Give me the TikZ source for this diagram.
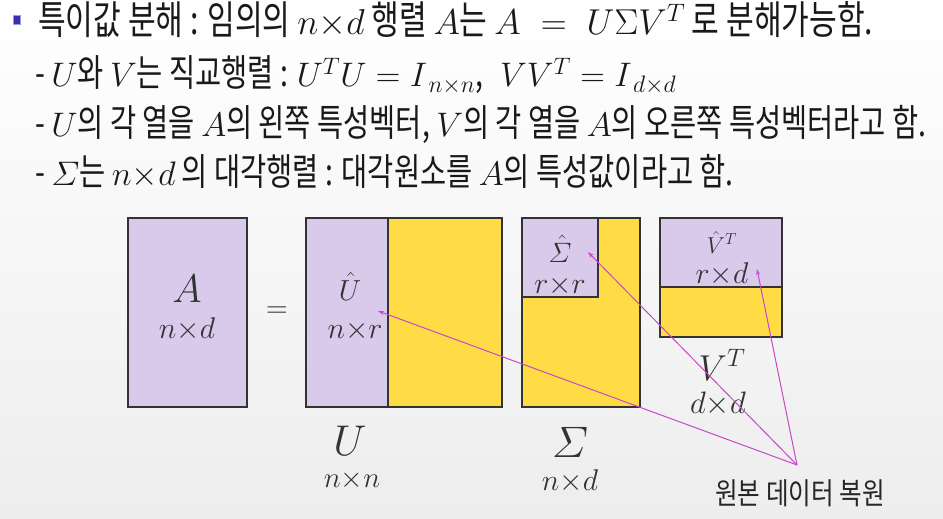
\RequirePackage{fix-cm}
\documentclass[tikz,border=0pt]{standalone}
\usepackage{fontspec}
\newfontfamily\kr[FakeStretch=0.76, Scale=1.1]{Noto Sans CJK KR}
\newfontfamily\krlbl[FakeStretch=0.82]{Noto Sans CJK KR}
\usetikzlibrary{arrows.meta}
\newcommand{\itSigma}{\mathchar"0106}
\definecolor{lav}{HTML}{D9CAEC}
\definecolor{gold}{HTML}{FFDB45}
\definecolor{pinkline}{HTML}{C848C8}
\definecolor{bulletblue}{HTML}{3A2FB0}
\tikzset{
  mat/.style={draw=black!80, line width=1.3pt},
  hdr/.style={anchor=base west, inner sep=0pt, text=black!90, font=\kr\fontsize{34}{40}\selectfont},
  lbl/.style={anchor=base, text=black!80, inner sep=0pt},
  ptr/.style={pinkline, line width=1pt, -{Stealth[length=6pt,width=4pt]}},
}
\begin{document}
\begin{tikzpicture}[x=1pt,y=-1pt]
\shade[top color=white, bottom color=black!7] (0,0) rectangle (943,519);
\useasboundingbox (0,0) rectangle (943,519);
% header lines
\node[fill=bulletblue, draw=bulletblue!50, minimum width=7pt, minimum height=9pt, inner sep=0pt] (bul) at (17,20) {};
\node[hdr, font=\kr\fontsize{36}{40}\selectfont] (l1) at (38,35) {특이값 분해 : 임의의 $n{\times}d$ 행렬 $A$는 $A \;=\; U\Sigma V^T$ 로 분해가능함.};
\node[hdr] (l2) at (35,87) {- $U$와 $V$는 직교행렬 : $U^TU = I_{\,n\times n}$,\; $VV^T = I_{\,d\times d}$};
\node[hdr] (l3) at (35,136) {- $U$의 각 열을 $A$의 왼쪽 특성벡터, $V$의 각 열을 $A$의 오른쪽 특성벡터라고 함.};
\node[hdr] (l4) at (35,185) {- $\itSigma$는 $n{\times}d$ 의 대각행렬 : 대각원소를 $A$의 특성값이라고 함.};
% matrices
\draw[mat, fill=lav] (128,218) rectangle (247,407);
\fill[gold] (388,218) rectangle (502,407);
\fill[lav] (306,218) rectangle (388,407);
\draw[mat] (306,218) rectangle (502,407);
\draw[mat] (388,218) -- (388,407);
\draw[mat, fill=gold] (522,218) rectangle (640,407);
\draw[mat, fill=lav] (522,218) rectangle (598,297);
\draw[mat, fill=gold] (660,218) rectangle (782,337);
\draw[mat, fill=lav] (660,218) rectangle (782,287);
% labels
\node[lbl, font=\fontsize{40}{44}\selectfont] (A) at (187,302) {$A$};
\node[lbl, font=\fontsize{30}{36}\selectfont] (Adim) at (187,338) {$n{\times}d$};
\node[lbl, anchor=center, font=\fontsize{30}{36}\selectfont] (eq) at (277,312) {$=$};
\node[lbl, font=\fontsize{29}{32}\selectfont] (Uhat) at (350,300) {$\hat U$};
\node[lbl, font=\fontsize{30}{32}\selectfont] (Udim) at (355,338) {$n{\times}r$};
\node[lbl, font=\fontsize{43}{46}\selectfont] (U) at (350,455) {$U$};
\node[lbl, font=\fontsize{29}{36}\selectfont] (Un) at (352,487) {$n{\times}n$};
\node[lbl, font=\fontsize{28}{30}\selectfont] (Shat) at (560,262) {$\hat{\itSigma}$};
\node[lbl, font=\fontsize{30}{32}\selectfont] (Sdim) at (560,293) {$r{\times}r$};
\node[lbl, font=\fontsize{44}{46}\selectfont] (S) at (570,457) {$\itSigma$};
\node[lbl, font=\fontsize{30}{36}\selectfont] (Sn) at (570,490) {$n{\times}d$};
\node[lbl, font=\fontsize{23}{26}\selectfont] (Vhat) at (722,253) {$\hat V^T$};
\node[lbl, font=\fontsize{30}{32}\selectfont] (Vdim) at (722,283) {$r{\times}d$};
\node[lbl, font=\fontsize{36}{40}\selectfont] (V) at (722,380) {$V^T$};
\node[lbl, font=\fontsize{31}{36}\selectfont] (Vd) at (718,413) {$d{\times}d$};
\node[lbl, anchor=center, text=black!85, font=\krlbl\fontsize{30}{34}\selectfont] (rec) at (800,493) {원본 데이터 복원};
% pointers
\coordinate (src) at (797,465);
\coordinate (tU) at (378,311);
\coordinate (tS) at (588,252);
\coordinate (tV) at (757,269);
\draw[ptr] (src) -- (tU);
\draw[ptr] (src) -- (tS);
\draw[ptr] (src) -- (tV);
\end{tikzpicture}
\end{document}
